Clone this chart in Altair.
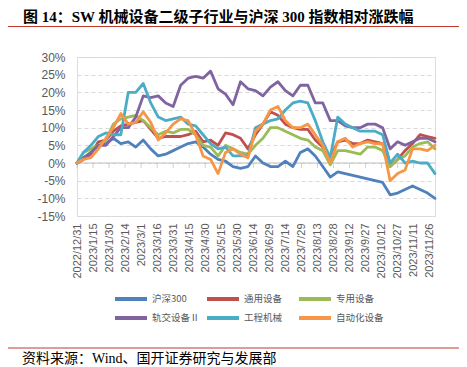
import altair as alt
import pandas as pd

# ---------------- data ----------------
dates = ["2022-12-31", "2023-01-06", "2023-01-13", "2023-01-20", "2023-01-27", "2023-02-03",
         "2023-02-10", "2023-02-17", "2023-02-24", "2023-03-03", "2023-03-10", "2023-03-17",
         "2023-03-24", "2023-03-31", "2023-04-07", "2023-04-14", "2023-04-21", "2023-04-28",
         "2023-05-05", "2023-05-12", "2023-05-19", "2023-05-26", "2023-06-02", "2023-06-09",
         "2023-06-16", "2023-06-23", "2023-06-30", "2023-07-07", "2023-07-14", "2023-07-21",
         "2023-07-28", "2023-08-04", "2023-08-11", "2023-08-18", "2023-08-25", "2023-09-01",
         "2023-09-08", "2023-09-15", "2023-09-22", "2023-09-29", "2023-10-06", "2023-10-13",
         "2023-10-20", "2023-10-27", "2023-11-03", "2023-11-10", "2023-11-17", "2023-11-24",
         "2023-12-01"]

series_names = ["沪深300", "通用设备", "专用设备", "轨交设备Ⅱ", "工程机械", "自动化设备"]
colors = ["#4F81BD", "#C0504D", "#9BBB59", "#8064A2", "#4BACC6", "#F79646"]

hs300 = [0, 1.5, 3, 5, 5.5, 7, 5.5, 6, 4.5, 6.5, 4, 2, 2.5, 3.5, 4.5, 5.5, 6, 4.5, 2.5, 1,
         0.5, -1, -1.5, -1, 2, 0, -1, -1, 0.5, -1, 3, 4, 2, -1, -4, -2.5, -3, -3.5, -4, -4.5,
         -5, -5.5, -9, -8.5, -7.5, -6.5, -7.5, -8.5, -10]
tongyong = [0, 1, 2.5, 6, 6.5, 9, 10.5, 11, 11.5, 12, 9.5, 7, 7.5, 7.5, 7.5, 8, 9, 6, 6.5,
            5, 8.5, 8, 7, 4, 8, 11, 14.5, 13.5, 11, 10, 9.5, 9.5, 6.5, 4.5, 1.5, 6, 6.5,
            5.5, 5.5, 6.5, 6, 5.5, -1, 1, 3.5, 5.5, 8, 7.5, 7]
zhuanyong = [0, 3, 4, 5, 6.5, 11, 12.5, 13, 13.5, 12, 10, 8, 9, 8.5, 9.5, 9.5, 8, 5, 4.5, 2,
             5, 4, 3, 2.5, 5, 7, 10, 10, 9, 8, 7, 6.5, 4.5, 3.5, -0.5, 3.5, 3.5, 3, 2.5,
             4.5, 4.5, 3.5, -1, 1, 2, 4.5, 5.5, 6, 4]
guijiao = [0, 1, 3, 5, 5, 7.5, 10, 10, 13, 19, 18.5, 19, 17, 16, 22, 24, 24.5, 24, 26, 21,
           19.5, 16.5, 23, 21, 20.5, 19, 21.5, 23, 20.5, 19, 22, 22, 17, 17, 12, 12, 10.5,
           10, 10, 11, 11, 10, 4, 6, 5, 6, 7, 7, 6]
gongcheng = [0, 3, 5, 7.5, 8.5, 8, 8, 20, 20, 22.5, 17, 13, 12, 12.5, 13, 11, 10.5, 8, 5.5,
             4, 4.5, 2, 2, 2, 10, 11, 12, 12.5, 15, 17, 17.5, 17, 12, 6, 1.5, 13, 11, 10, 9,
             9, 9, 8, 0, 2.5, 0, 0.5, 0, 0, -3]
zidonghua = [0, 1, 1.5, 4, 7, 10, 14, 11, 11.5, 14.5, 11.5, 6.5, 8.5, 11, 12.5, 12, 8, 2, 1,
             -3, 3, 4, 2.5, 1.5, 9, 11, 15, 16, 12, 10, 10, 11, 8, 5, 0, 6, 7, 4.5, 5.5, 6,
             5.5, 5.5, -5, -3, -2, 4, 4, 3.5, 5]

tick_dates = ["2022-12-31", "2023-01-15", "2023-01-30", "2023-02-14", "2023-03-01",
              "2023-03-16", "2023-03-31", "2023-04-15", "2023-04-30", "2023-05-15",
              "2023-05-30", "2023-06-14", "2023-06-29", "2023-07-14", "2023-07-29",
              "2023-08-13", "2023-08-28", "2023-09-12", "2023-09-27", "2023-10-12",
              "2023-10-27", "2023-11-11", "2023-11-26"]
x_domain = ["2022-12-31", "2023-12-01"]
y_ticks = [-15, -10, -5, 0, 5, 10, 15, 20, 25, 30]

title_text = "图 14：SW 机械设备二级子行业与沪深 300 指数相对涨跌幅"
source_text = "资料来源：Wind、国开证券研究与发展部"

# ---------------- build ----------------
def ms(s):
    return int(pd.Timestamp(s, tz="UTC").timestamp() * 1000)

all_vals = [hs300, tongyong, zhuanyong, guijiao, gongcheng, zidonghua]
rows = []
for name, vals in zip(series_names, all_vals):
    for d, v in zip(dates, vals):
        rows.append({"date": d, "series": name, "value": v})
df = pd.DataFrame(rows)

tick_df = pd.DataFrame({"date": tick_dates, "value": [0] * len(tick_dates)})
zero_df = pd.DataFrame({"value": [0]})

W, H = 358, 159

x_scale = alt.Scale(type="utc", domain=[ms(x_domain[0]), ms(x_domain[1])], nice=False)
x_axis = alt.Axis(values=[ms(t) for t in tick_dates],
                  labelExpr="utcFormat(datum.value, '%Y/%-m/%-d')",
                  labelAngle=-90, labelFontSize=11, labelColor="#595959",
                  labelFont="Liberation Sans", labelPadding=7,
                  ticks=False, domain=False, grid=False, title=None,
                  labelOverlap=False, labelBound=False, labelFlush=False)
y_scale = alt.Scale(domain=[-15, 30], nice=False, zero=False)
y_axis = alt.Axis(values=y_ticks, labelExpr="datum.value + '%'",
                  labelFontSize=12, labelColor="#595959", labelFont="Liberation Sans",
                  labelPadding=12, ticks=False, domain=False, labelOverlap=False,
                  grid=True, gridColor="#D9D9D9", gridDash=[4, 3], gridWidth=1,
                  title=None)

x_enc = alt.X("date:T", scale=x_scale, axis=x_axis)
y_enc = alt.Y("value:Q", scale=y_scale, axis=y_axis)

color_enc = alt.Color("series:N",
                      scale=alt.Scale(domain=series_names, range=colors),
                      legend=alt.Legend(orient="none", legendX=36, legendY=237,
                                        columns=3, direction="horizontal",
                                        symbolType="stroke", symbolSize=1024,
                                        symbolStrokeWidth=4, clipHeight=10,
                                        labelFontSize=9.5, labelFont="Noto Sans CJK SC",
                                        labelColor="#595959", labelOffset=3,
                                        rowPadding=9, columnPadding=5, gridAlign="all",
                                        title=None, padding=0, labelLimit=0))

zero_rule = alt.Chart(zero_df).mark_rule(color="#BFBFBF", strokeWidth=1).encode(y=y_enc)
ticks = alt.Chart(tick_df).mark_tick(orient="vertical", size=5, thickness=1, yOffset=2.5,
                                     color="#BFBFBF").encode(x=x_enc, y=y_enc)

line_layers = []
for name in series_names:
    line_layers.append(
        alt.Chart(df).transform_filter(alt.datum.series == name)
        .mark_line(strokeWidth=2.8, strokeJoin="round", strokeCap="round")
        .encode(x=x_enc, y=y_enc, color=color_enc)
    )

title_layer = alt.Chart(pd.DataFrame({"t": [title_text]})).mark_text(
    align="left", baseline="middle", fontSize=15, fontWeight="bold",
    font="Liberation Serif, Noto Sans CJK SC", color="#000000"
).encode(text="t:N", x=alt.value(-54), y=alt.value(-40))

title_rule = alt.Chart(pd.DataFrame({"a": [0]})).mark_rule(color="#C0392B", strokeWidth=1).encode(
    x=alt.value(-69), x2=alt.value(390), y=alt.value(-30.5))

source_rule = alt.Chart(pd.DataFrame({"a": [0]})).mark_rule(color="#C0392B", strokeWidth=1).encode(
    x=alt.value(-69), x2=alt.value(390), y=alt.value(291))

source_layer = alt.Chart(pd.DataFrame({"t": [source_text]})).mark_text(
    align="left", baseline="middle", fontSize=14,
    font="Liberation Serif, Noto Sans CJK SC", color="#000000"
).encode(text="t:N", x=alt.value(-55), y=alt.value(301.5))

chart = alt.layer(
    zero_rule, ticks, *line_layers, title_layer, title_rule, source_rule, source_layer
).properties(
    width=W, height=H,
    autosize=alt.AutoSizeParams(type="none"),
    padding={"left": 69, "top": 49, "right": 24, "bottom": 151},
).configure_view(stroke=None).configure(background="white")

chart.save("out.html", embed_options={"renderer": "svg", "actions": False})
